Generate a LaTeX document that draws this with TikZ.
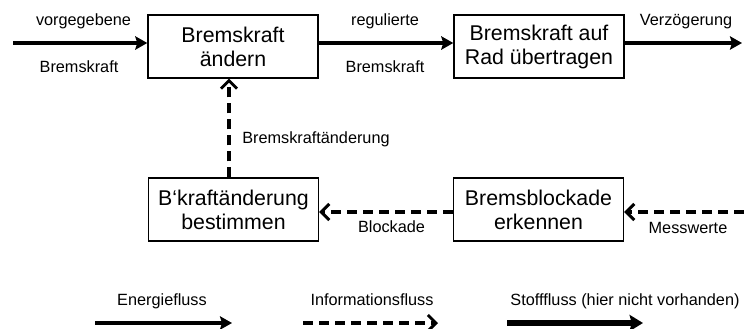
\documentclass[tikz,border=0pt]{standalone}
\usepackage{fontspec}
\setmainfont{Liberation Sans}
\usetikzlibrary{arrows.meta}
\tikzset{
  box/.style={draw, line width=1.1pt, inner sep=0pt, minimum width=127.5pt, minimum height=47pt, align=center, font=\fontsize{16}{18}\selectfont},
  lbl/.style={inner sep=0pt, anchor=base, font=\fontsize{12.2}{14}\selectfont},
  energy/.style={line width=2.6pt, -{Triangle[length=9pt,width=10pt,inset=1.5pt]}},
  info/.style={line width=2.6pt, dash pattern=on 7.5pt off 4.5pt, -{Straight Barb[length=6pt,width=12pt,line width=2.2pt]}},
  stoff/.style={line width=4pt, -{Triangle[length=10pt,width=12pt,inset=1.5pt]}}
}
\begin{document}
\begin{tikzpicture}[x=0.75pt,y=-0.75pt]
\useasboundingbox (0,0) rectangle (744,329);
\node[box] (b1) at (233,46.5) {Bremskraft\\ändern};
\node[box] (b2) at (539,46.5) {Bremskraft auf\\Rad übertragen};
\node[box] (b3) at (233.5,209.5) {B‘kraftänderung\\bestimmen};
\node[box] (b4) at (538.5,209.5) {Bremsblockade\\erkennen};
\coordinate (in) at (13,43);
\coordinate (out) at (742,43);
\coordinate (mw) at (744,212);
\coordinate (up) at (229,178);
\coordinate (bl) at (0,212);
\draw[energy] (in) -- (b1.west |- in);
\draw[energy] (b1.east |- in) -- (b2.west |- in);
\draw[energy] (b2.east |- out) -- (out);
\draw[info] (mw) -- (b4.east |- mw);
\draw[info] (b4.west |- bl) -- (b3.east |- bl);
\draw[info] (b3.north -| up) -- (b1.south -| up);
\node[lbl] (l1) at (83.5,25) {vorgegebene};
\node[lbl] (l2) at (79,72) {Bremskraft};
\node[lbl] (l3) at (385,25) {regulierte};
\node[lbl] (l4) at (385,72) {Bremskraft};
\node[lbl] (l5) at (686,25) {Verzögerung};
\node[lbl] (l6) at (391.5,232.5) {Blockade};
\node[lbl] (l7) at (688,233) {Messwerte};
\node[lbl, anchor=base west] (l8) at (242,143) {Bremskraftänderung};
\node[lbl] (t1) at (162,305) {Energiefluss};
\node[lbl] (t2) at (372,305) {Informationsfluss};
\node[lbl] (t3) at (625,305) {Stofffluss (hier nicht vorhanden)};
\coordinate (e1) at (95,323); \coordinate (e2) at (232,323);
\coordinate (i1) at (303,323); \coordinate (i2) at (438,323);
\coordinate (s1) at (507,323); \coordinate (s2) at (643,323);
\draw[energy] (e1) -- (e2);
\draw[info] (i1) -- (i2);
\draw[stoff] (s1) -- (s2);
\end{tikzpicture}
\end{document}
